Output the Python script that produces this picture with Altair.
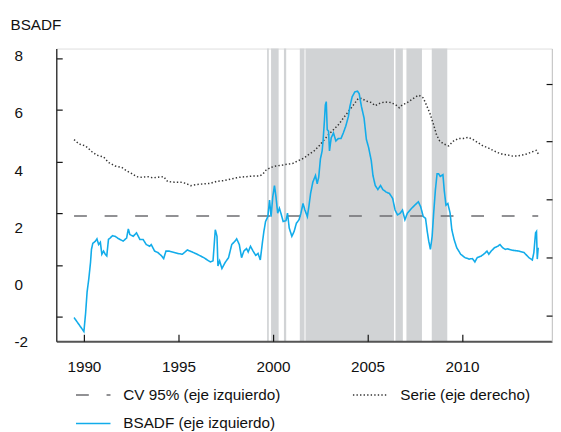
import altair as alt
import pandas as pd

# ---- data ----
NAME_CV = "CV 95% (eje izquierdo)"
NAME_SERIE = "Serie (eje derecho)"
NAME_BSADF = "BSADF (eje izquierdo)"

SHADE = [(1999.69, 1999.78), (1999.90, 2000.30), (2000.58, 2000.70), (2001.42, 2001.67),
         (2001.72, 2006.40), (2006.48, 2006.87), (2007.06, 2007.88), (2008.40, 2009.22)]

CV_LEVEL = 2.39
CV_SPAN = [1989.48, 2014.03]

BSADF = [
    (1989.48, -1.17), (1990.00, -1.66), (1990.09, -1.02), (1990.17, -0.27), (1990.26, 0.19),
    (1990.35, 0.76), (1990.40, 1.22), (1990.47, 1.43), (1990.61, 1.51), (1990.69, 1.59),
    (1990.78, 1.39), (1990.87, 1.47), (1990.95, 1.05), (1991.04, 1.16), (1991.13, 1.05),
    (1991.21, 0.99), (1991.30, 1.57), (1991.39, 1.62), (1991.51, 1.70), (1991.65, 1.68),
    (1991.82, 1.60), (1992.08, 1.51), (1992.26, 1.62), (1992.35, 1.94), (1992.43, 1.74),
    (1992.61, 1.68), (1992.78, 1.80), (1992.96, 1.57), (1993.13, 1.57), (1993.30, 1.39),
    (1993.48, 1.33), (1993.56, 1.39), (1993.74, 1.16), (1993.91, 1.11), (1994.08, 1.01),
    (1994.22, 0.90), (1994.34, 1.16), (1994.52, 1.16), (1994.69, 1.13), (1994.95, 1.08),
    (1995.21, 1.05), (1995.47, 1.20), (1995.73, 1.13), (1995.99, 1.05), (1996.34, 0.93),
    (1996.69, 0.78), (1996.83, 0.82), (1996.95, 1.91), (1997.04, 1.68), (1997.09, 0.64),
    (1997.18, 0.82), (1997.30, 0.55), (1997.47, 0.76), (1997.65, 0.93), (1997.82, 1.39),
    (1997.99, 1.51), (1998.08, 1.59), (1998.22, 1.39), (1998.34, 0.93), (1998.46, 1.16),
    (1998.60, 1.25), (1998.69, 1.13), (1998.81, 1.33), (1998.95, 1.16), (1999.09, 1.01),
    (1999.21, 1.08), (1999.33, 0.85), (1999.44, 1.45), (1999.52, 1.85), (1999.61, 2.20),
    (1999.73, 2.37), (1999.82, 2.95), (1999.90, 2.37), (1999.99, 3.06), (2000.08, 3.46),
    (2000.16, 3.06), (2000.25, 2.49), (2000.34, 2.66), (2000.42, 2.49), (2000.54, 2.20),
    (2000.69, 2.23), (2000.77, 2.49), (2000.86, 1.97), (2001.00, 1.68), (2001.12, 1.85),
    (2001.24, 2.14), (2001.38, 2.26), (2001.48, 2.49), (2001.59, 2.83), (2001.69, 2.60),
    (2001.82, 2.37), (2001.90, 2.72), (2001.99, 3.18), (2002.11, 3.58), (2002.25, 3.81),
    (2002.34, 3.52), (2002.42, 3.75), (2002.51, 4.39), (2002.60, 4.67), (2002.65, 5.02),
    (2002.72, 5.71), (2002.77, 6.28), (2002.82, 6.40), (2002.87, 5.42), (2002.94, 5.36),
    (2002.99, 4.67), (2003.08, 5.13), (2003.20, 5.30), (2003.33, 5.02), (2003.46, 5.11),
    (2003.60, 5.11), (2003.72, 5.30), (2003.85, 5.54), (2003.99, 5.88), (2004.07, 6.23),
    (2004.19, 6.57), (2004.33, 6.74), (2004.47, 6.77), (2004.56, 6.68), (2004.68, 6.23),
    (2004.82, 5.82), (2004.94, 5.08), (2005.06, 4.79), (2005.20, 4.33), (2005.29, 3.81),
    (2005.41, 3.46), (2005.55, 3.32), (2005.69, 3.46), (2005.81, 3.32), (2005.99, 3.23),
    (2006.16, 3.18), (2006.33, 3.01), (2006.46, 2.60), (2006.59, 2.43), (2006.73, 2.49),
    (2006.85, 2.60), (2006.98, 2.26), (2007.11, 2.49), (2007.29, 2.63), (2007.50, 2.77),
    (2007.69, 2.89), (2007.81, 2.72), (2007.95, 2.37), (2008.07, 2.31), (2008.16, 1.85),
    (2008.24, 1.51), (2008.33, 1.22), (2008.42, 1.68), (2008.50, 2.49), (2008.59, 3.29),
    (2008.68, 3.87), (2008.76, 3.87), (2008.85, 3.78), (2008.99, 3.84), (2009.06, 3.29),
    (2009.15, 2.77), (2009.25, 2.83), (2009.37, 2.49), (2009.46, 1.91), (2009.58, 1.57),
    (2009.72, 1.28), (2009.93, 1.05), (2010.16, 0.93), (2010.38, 0.88), (2010.55, 0.90),
    (2010.68, 0.78), (2010.80, 0.93), (2011.02, 0.99), (2011.20, 1.08), (2011.32, 1.16),
    (2011.42, 1.05), (2011.54, 1.16), (2011.72, 1.28), (2011.89, 1.33), (2012.01, 1.39),
    (2012.15, 1.28), (2012.29, 1.22), (2012.41, 1.24), (2012.67, 1.19), (2013.02, 1.16),
    (2013.28, 1.11), (2013.54, 0.93), (2013.72, 0.85), (2013.80, 1.11), (2013.89, 1.80),
    (2013.94, 1.85), (2013.98, 0.88), (2014.03, 1.28),
]

SERIE = [
    (1989.48, 8.07), (1989.74, 7.92), (1990.09, 7.85), (1990.43, 7.65), (1990.69, 7.53),
    (1991.04, 7.47), (1991.30, 7.28), (1991.65, 7.16), (1992.00, 7.11), (1992.26, 6.99),
    (1992.52, 6.90), (1992.78, 6.79), (1993.04, 6.77), (1993.39, 6.79), (1993.65, 6.75),
    (1993.91, 6.77), (1994.22, 6.79), (1994.43, 6.62), (1994.78, 6.60), (1995.12, 6.60),
    (1995.38, 6.56), (1995.65, 6.48), (1995.99, 6.52), (1996.34, 6.54), (1996.69, 6.56),
    (1997.04, 6.63), (1997.39, 6.65), (1997.73, 6.70), (1998.08, 6.75), (1998.25, 6.77),
    (1998.60, 6.79), (1998.95, 6.81), (1999.29, 6.81), (1999.47, 6.88), (1999.64, 7.02),
    (1999.90, 7.11), (2000.16, 7.16), (2000.51, 7.19), (2000.77, 7.22), (2001.03, 7.24),
    (2001.30, 7.33), (2001.64, 7.43), (2001.90, 7.56), (2002.16, 7.67), (2002.42, 7.84),
    (2002.68, 8.04), (2002.94, 8.24), (2003.20, 8.41), (2003.46, 8.58), (2003.72, 8.81),
    (2003.99, 9.04), (2004.25, 9.26), (2004.51, 9.49), (2004.68, 9.49), (2004.94, 9.40),
    (2005.20, 9.35), (2005.41, 9.24), (2005.64, 9.32), (2005.90, 9.37), (2006.25, 9.35),
    (2006.51, 9.26), (2006.68, 9.17), (2006.85, 9.28), (2007.03, 9.32), (2007.29, 9.43),
    (2007.55, 9.55), (2007.72, 9.60), (2007.95, 9.51), (2008.12, 9.26), (2008.30, 8.98),
    (2008.47, 8.64), (2008.65, 8.24), (2008.82, 8.02), (2009.03, 7.92), (2009.29, 7.85),
    (2009.55, 8.02), (2009.81, 8.11), (2010.07, 8.11), (2010.33, 8.15), (2010.59, 8.07),
    (2010.85, 7.96), (2011.11, 7.85), (2011.37, 7.79), (2011.63, 7.70), (2011.89, 7.62),
    (2012.15, 7.56), (2012.41, 7.54), (2012.67, 7.50), (2012.93, 7.50), (2013.20, 7.54),
    (2013.46, 7.58), (2013.72, 7.65), (2013.93, 7.70), (2014.03, 7.58),
]

X_TICKS = [1990, 1995, 2000, 2005, 2010]
LEFT_LABELS = [-2, 0, 2, 4, 6, 8]
LEFT_TICKS = [-2, 0, 2, 4, 6, 8]
RIGHT_TICKS = [2, 4, 6, 8, 10]

# scale extents (axis set-up)
X_DOMAIN = [1988.54, 2014.76]
Y_LABEL_DOMAIN = [-2.0, 8.262]
Y_TICK_DOMAIN = [-2.954, 8.38]
Y_RIGHT_DOMAIN = [1.105, 11.215]

FONT = "Liberation Sans"
FS = 15.5
W, H = 503, 297

names = [NAME_CV, NAME_SERIE, NAME_BSADF]
colors = ["#6d6e71", "#333333", "#12acea"]
dashes = [[13, 18], [1.4, 2.2], [1, 0]]

shade_df = pd.DataFrame(SHADE, columns=["start", "end"])
cv_df = pd.DataFrame({"year": CV_SPAN, "value": [CV_LEVEL, CV_LEVEL], "serie": NAME_CV})
bsadf_df = pd.DataFrame(BSADF, columns=["year", "value"]).assign(serie=NAME_BSADF)
serie_df = pd.DataFrame(SERIE, columns=["year", "value"]).assign(serie=NAME_SERIE)

legend = alt.Legend(
    title=None, orient="none", legendX=19, legendY=333, columns=2, direction="horizontal",
    symbolType="stroke", symbolSize=1225, symbolStrokeWidth=1.6,
    labelFont=FONT, labelFontSize=FS, labelColor="#111", labelOffset=12,
    columnPadding=69, rowPadding=2, padding=0,
)
color_enc = alt.Color("serie:N", scale=alt.Scale(domain=names, range=colors), legend=legend)
dash_enc = alt.StrokeDash("serie:N", scale=alt.Scale(domain=names, range=dashes), legend=legend)


def xscale():
    return alt.Scale(domain=X_DOMAIN, nice=False, zero=False)


# shaded periods: its x axis draws the bottom line, its y axis the inward left ticks
shade = alt.Chart(shade_df).mark_rect(color="#d1d3d5").encode(
    x=alt.X("start:Q", scale=xscale(), axis=alt.Axis(
        orient="bottom", domain=True, domainColor="#555555", domainWidth=2.2,
        ticks=False, labels=False, grid=False, title=None, zindex=1)),
    x2="end:Q",
    y=alt.YDatum(Y_TICK_DOMAIN[1], type="quantitative",
                 scale=alt.Scale(domain=Y_TICK_DOMAIN, nice=False, zero=False),
                 axis=alt.Axis(orient="left", offset=-6, domain=False, ticks=True,
                               tickSize=6, tickColor="#111", tickWidth=1.2,
                               labels=False, grid=False, title=None,
                               values=LEFT_TICKS, zindex=1)),
    y2=alt.Y2Datum(Y_TICK_DOMAIN[0]),
)

cv = alt.Chart(cv_df).mark_line(strokeWidth=1.6).encode(
    x=alt.X("year:Q", scale=xscale(), axis=None),
    y=alt.Y("value:Q", scale=alt.Scale(domain=Y_LABEL_DOMAIN, nice=False, zero=False),
            axis=alt.Axis(orient="right", domain=True, domainColor="#c9c9c9",
                          domainWidth=1.5, ticks=False, labels=False, grid=False,
                          title=None, zindex=1)),
    color=color_enc, strokeDash=dash_enc,
)

serie = alt.Chart(serie_df).mark_line(strokeWidth=1.5).encode(
    x=alt.X("year:Q", scale=xscale(), axis=None),
    y=alt.Y("value:Q", scale=alt.Scale(domain=Y_RIGHT_DOMAIN, nice=False, zero=False),
            axis=alt.Axis(orient="right", offset=-6, domain=False, ticks=True,
                          tickSize=6, tickColor="#111", tickWidth=1.2, labels=False,
                          grid=False, title=None, values=RIGHT_TICKS, zindex=1)),
    color=color_enc, strokeDash=dash_enc,
)

bsadf = alt.Chart(bsadf_df).mark_line(strokeWidth=1.6).encode(
    x=alt.X("year:Q", scale=xscale(), axis=alt.Axis(
        orient="bottom", offset=-7, domain=False, ticks=True, tickSize=7,
        tickColor="#111", tickWidth=1.2, values=X_TICKS, format="d",
        labelFont=FONT, labelFontSize=FS, labelColor="#111", labelPadding=19,
        grid=False, title=None, zindex=1)),
    y=alt.Y("value:Q", scale=alt.Scale(domain=Y_LABEL_DOMAIN, nice=False, zero=False),
            axis=alt.Axis(orient="left", domain=True, domainColor="#222222",
                          domainWidth=1.3, ticks=False, tickSize=0, values=LEFT_LABELS,
                          labelExpr="'' + datum.value",
                          labelFont=FONT, labelFontSize=FS, labelColor="#111",
                          labelAlign="left", labelPadding=43, grid=False,
                          title="BSADF", titleAngle=0, titleX=-47, titleY=-19,
                          titleAlign="left", titleBaseline="alphabetic",
                          titleFont=FONT, titleFontSize=FS, titleFontWeight="normal",
                          titleColor="#111", zindex=1)),
    color=color_enc, strokeDash=dash_enc,
)

chart = alt.layer(shade, cv, serie, bsadf).resolve_scale(
    x="independent", y="independent"
).properties(
    width=W, height=H,
    autosize=alt.AutoSizeParams(type="none"),
    padding={"left": 49, "top": 38, "right": 1, "bottom": 92},
).configure_view(stroke=None).configure(font=FONT)

chart.save("out.html", embed_options={"renderer": "svg", "actions": False})
